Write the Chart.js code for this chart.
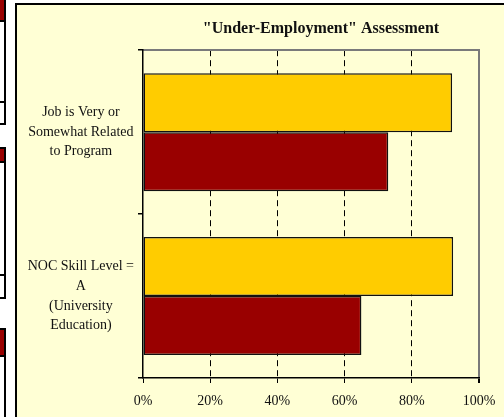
<!DOCTYPE html>
<html>
<head>
<meta charset="utf-8">
<script src="https://cdn.jsdelivr.net/npm/chart.js@4/dist/chart.umd.min.js"></script>
<style>
  html, body { margin: 0; padding: 0; background: #fff; width: 504px; height: 417px; overflow: hidden; }
  .frag { position: absolute; left: 0; width: 4px; border-right: 2px solid #000; background: #fff; box-sizing: content-box; }
  .frag .red { position: absolute; left: 0; right: 0; background: #990000; }
  .frag .ln { position: absolute; left: 0; right: 0; height: 2px; background: #000; }
  #panel { position: absolute; left: 15px; top: 3px; width: 489px; height: 414px; border-left: 2px solid #000; border-top: 2px solid #000; background: #FFFFD5; overflow: hidden; }
  #wrap { position: absolute; left: 0; top: 0; width: 608px; height: 412px; }
</style>
</head>
<body>
<!-- edges of neighbouring charts, cut off on the left -->
<div class="frag" style="top:0;height:123px;border-bottom:2px solid #000">
  <div class="red" style="top:0;height:20px"></div><div class="ln" style="top:20px"></div><div class="ln" style="top:101px"></div>
</div>
<div class="frag" style="top:147px;height:148px;border-top:2px solid #000;border-bottom:2px solid #000">
  <div class="red" style="top:0;height:12px"></div><div class="ln" style="top:12px"></div><div class="ln" style="top:125px"></div>
</div>
<div class="frag" style="top:328px;height:100px;border-top:2px solid #000">
  <div class="red" style="top:0;height:25px"></div><div class="ln" style="top:25px"></div>
</div>

<div id="panel"><div id="wrap"><canvas id="underChart"></canvas></div></div>

<script>
const categories = [
    ['Job is Very or', 'Somewhat Related', 'to Program'],
    ['NOC Skill Level =', 'A', '(University', 'Education)']
];
const yellowValues = [92, 92.3];
const redValues = [73, 65];
const xTicks = [0, 20, 40, 60, 80, 100];

const serif = '"Liberation Serif", "Times New Roman", serif';
const frameGray = '#7a7a7a';

const tickVal = (c) => (c.tick ? c.tick.value : null);

function drawChart() {
    const ctx = document.getElementById('underChart').getContext('2d');
    new Chart(ctx, {
        type: 'bar',
        data: {
            labels: categories,
            datasets: [
                {
                    label: 'Series 1',
                    data: yellowValues,
                    backgroundColor: '#FFCC00',
                    borderColor: '#111',
                    borderWidth: 1.5,
                    borderSkipped: false
                },
                {
                    label: 'Series 2',
                    data: redValues,
                    backgroundColor: '#990000',
                    borderColor: '#111',
                    borderWidth: 1.5,
                    borderSkipped: false
                }
            ]
        },
        options: {
            indexAxis: 'y',
            responsive: true,
            maintainAspectRatio: false,
            animation: false,
            categoryPercentage: 0.72,
            barPercentage: 1.0,
            layout: { padding: 0 },
            plugins: {
                legend: { display: false },
                tooltip: { enabled: false },
                title: {
                    display: true,
                    text: '"Under-Employment" Assessment',
                    color: '#111',
                    font: { family: serif, size: 16, weight: 'bold', lineHeight: 1.2 },
                    padding: { top: 14, bottom: 12 }
                }
            },
            scales: {
                x: {
                    min: 0,
                    max: 100,
                    afterBuildTicks: (scale) => { scale.ticks = xTicks.map(v => ({ value: v })); },
                    afterFit: (scale) => { scale.height = 39; },
                    ticks: {
                        callback: (v) => v + '%',
                        color: '#111',
                        padding: 10,
                        font: { family: serif, size: 14 }
                    },
                    grid: {
                        color: (c) => tickVal(c) === 0 ? 'rgba(0,0,0,0)' : (tickVal(c) === 100 ? frameGray : '#000'),
                        lineWidth: (c) => tickVal(c) === 100 ? 2 : 1,
                        tickColor: '#000',
                        tickLength: 5
                    },
                    border: {
                        display: true,
                        color: '#000',
                        width: 1.5,
                        dash: (c) => tickVal(c) === 100 ? [] : [6, 4]
                    }
                },
                // top edge of the plot area, gray like the right edge
                xTop: {
                    type: 'linear',
                    position: 'top',
                    min: 0,
                    max: 100,
                    display: true,
                    afterFit: (scale) => { scale.height = 0; },
                    ticks: { display: false },
                    grid: { display: false, drawTicks: false },
                    border: { display: true, color: frameGray, width: 2 }
                },
                y: {
                    afterFit: (scale) => { scale.width = 126; },
                    ticks: {
                        crossAlign: 'center',
                        color: '#111',
                        padding: 4,
                        font: { family: serif, size: 14, lineHeight: 1.4 }
                    },
                    grid: {
                        drawOnChartArea: false,
                        tickColor: '#000',
                        tickLength: 5,
                        lineWidth: 1.5
                    },
                    border: { display: true, color: '#000', width: 1.5 }
                },
                // empty space to the right of the plot (the panel runs on past the window)
                yRight: {
                    type: 'linear',
                    position: 'right',
                    display: true,
                    afterFit: (scale) => { scale.width = 146; },
                    ticks: { display: false },
                    grid: { display: false },
                    border: { display: false }
                }
            }
        }
    });
}

drawChart();
</script>
</body>
</html>
